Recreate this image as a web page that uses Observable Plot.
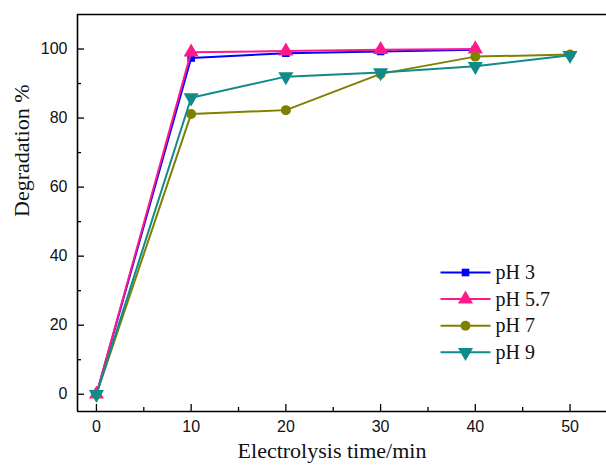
<!DOCTYPE html>
<html><head><meta charset="utf-8">
<script src="https://cdn.jsdelivr.net/npm/d3@7"></script>
<script src="https://cdn.jsdelivr.net/npm/@observablehq/plot@0.6"></script>
<style>body{margin:0;background:#fff} svg{display:block}</style>
</head><body><div id="chart"></div>
<script>
// ---- data ----
const times = [0, 10, 20, 30, 40, 50];
const seriesNames = ["pH 3", "pH 5.7", "pH 7", "pH 9"];
const pH3  = [0, 97.4, 98.8, 99.3, 99.8];
const pH57 = [0, 99.1, 99.4, 99.8, 100.0];
const pH7  = [0, 81.2, 82.3, 92.8, 97.8, 98.4];
const pH9  = [0, 85.9, 92.0, 93.2, 95.0, 98.2];
const xTicks = [0, 10, 20, 30, 40, 50];
const yTicks = [0, 20, 40, 60, 80, 100];
const xMinor = [5, 15, 25, 35, 45];
const yMinor = [10, 30, 50, 70, 90];
const xLabel = "Electrolysis time/min";
const yLabel = "Degradation %";

// ---- styles ----
const colors = ["#0000ff", "#ff1a8c", "#808000", "#118a8a"];
const triangleDown = {
  draw(context, size) {
    const y = -Math.sqrt(size / (Math.sqrt(3) * 3));
    context.moveTo(0, -y * 2);
    context.lineTo(-Math.sqrt(3) * y, y);
    context.lineTo(Math.sqrt(3) * y, y);
    context.closePath();
  }
};
const symbols = ["square", "triangle", "circle", triangleDown];
const radii = [4.3, 5.6, 5.0, 5.6];

const W = 606, H = 467, mL = 77, mR = 0, mT = 14, mB = 56;
const xDomain = [-2, 53.85], yDomain = [-5, 110];
const xs = Plot.scale({x: {domain: xDomain, range: [mL, W - mR]}});
const ys = Plot.scale({y: {domain: yDomain, range: [H - mB, mT]}});

const allSeries = [pH3, pH57, pH7, pH9];
const rows = allSeries.flatMap((vals, i) => vals.map((v, j) => ({t: times[j], v, name: seriesNames[i], i})));

// legend layout (pixels -> data via the scales)
const legX1 = 440, legX2 = 490, legMark = 465, legText = 495, legY0 = 272, legDy = 26.6;
const legend = seriesNames.map((name, i) => ({
  name, i,
  x1: xs.invert(legX1), x2: xs.invert(legX2), xm: xs.invert(legMark), xt: xs.invert(legText),
  y: ys.invert(legY0 + i * legDy)
}));

const plotW = W - mL - mR, plotH = H - mT - mB;
const serif = "Liberation Serif, Times New Roman, serif";

const marks = [
  // frame lines
  Plot.ruleX([xDomain[0]], {stroke: "#000", strokeWidth: 1.6}),
  Plot.ruleY([yDomain[0]], {stroke: "#000", strokeWidth: 1.6}),
  Plot.ruleY([yDomain[1]], {stroke: "#000", strokeWidth: 1.6}),
  // inward ticks
  Plot.ruleY(yTicks, {y: d => d, insetRight: plotW - 7, stroke: "#000", strokeWidth: 1.3}),
  Plot.ruleY(yMinor, {y: d => d, insetRight: plotW - 4, stroke: "#000", strokeWidth: 1.3}),
  Plot.ruleX(xTicks, {x: d => d, insetTop: plotH - 7, stroke: "#000", strokeWidth: 1.3}),
  Plot.ruleX(xMinor, {x: d => d, insetTop: plotH - 4, stroke: "#000", strokeWidth: 1.3}),
  Plot.axisX(xTicks, {tickSize: 0, tickPadding: 9, label: null, fontSize: 16, fill: "#111"}),
  Plot.axisY(yTicks, {tickSize: 0, tickPadding: 10, label: null, fontSize: 16, fill: "#111"}),
  Plot.text([xLabel], {frameAnchor: "bottom", dy: 46, dx: -10, fontSize: 22, fontFamily: serif, fill: "#111"}),
  Plot.text([yLabel], {frameAnchor: "left", dx: -56, dy: 4, rotate: -90, fontSize: 22, fontFamily: serif, fill: "#111"})
];

seriesNames.forEach((name, i) => {
  const d = rows.filter(r => r.i === i);
  marks.push(Plot.line(d, {x: "t", y: "v", stroke: colors[i], strokeWidth: 2}));
  marks.push(Plot.dot(d, {x: "t", y: "v", fill: colors[i], stroke: "none", symbol: () => symbols[i], r: radii[i]}));
});

// legend
seriesNames.forEach((name, i) => {
  const d = legend.filter(l => l.i === i);
  marks.push(Plot.link(d, {x1: "x1", x2: "x2", y1: "y", y2: "y", stroke: colors[i], strokeWidth: 2}));
  marks.push(Plot.dot(d, {x: "xm", y: "y", fill: colors[i], stroke: "none", symbol: () => symbols[i], r: radii[i]}));
  marks.push(Plot.text(d, {x: "xt", y: "y", text: "name", textAnchor: "start", fontSize: 20, fontFamily: serif, fill: "#111"}));
});

const chart = Plot.plot({
  width: W, height: H,
  marginLeft: mL, marginRight: mR, marginTop: mT, marginBottom: mB,
  x: {domain: xDomain, axis: null},
  y: {domain: yDomain, axis: null},
  symbol: {type: "identity"},
  style: {fontFamily: "Liberation Sans, Arial, sans-serif", fontSize: "16px", background: "#fff", color: "#000", overflow: "visible"},
  marks
});
document.getElementById("chart").append(chart);
</script>
</body></html>
